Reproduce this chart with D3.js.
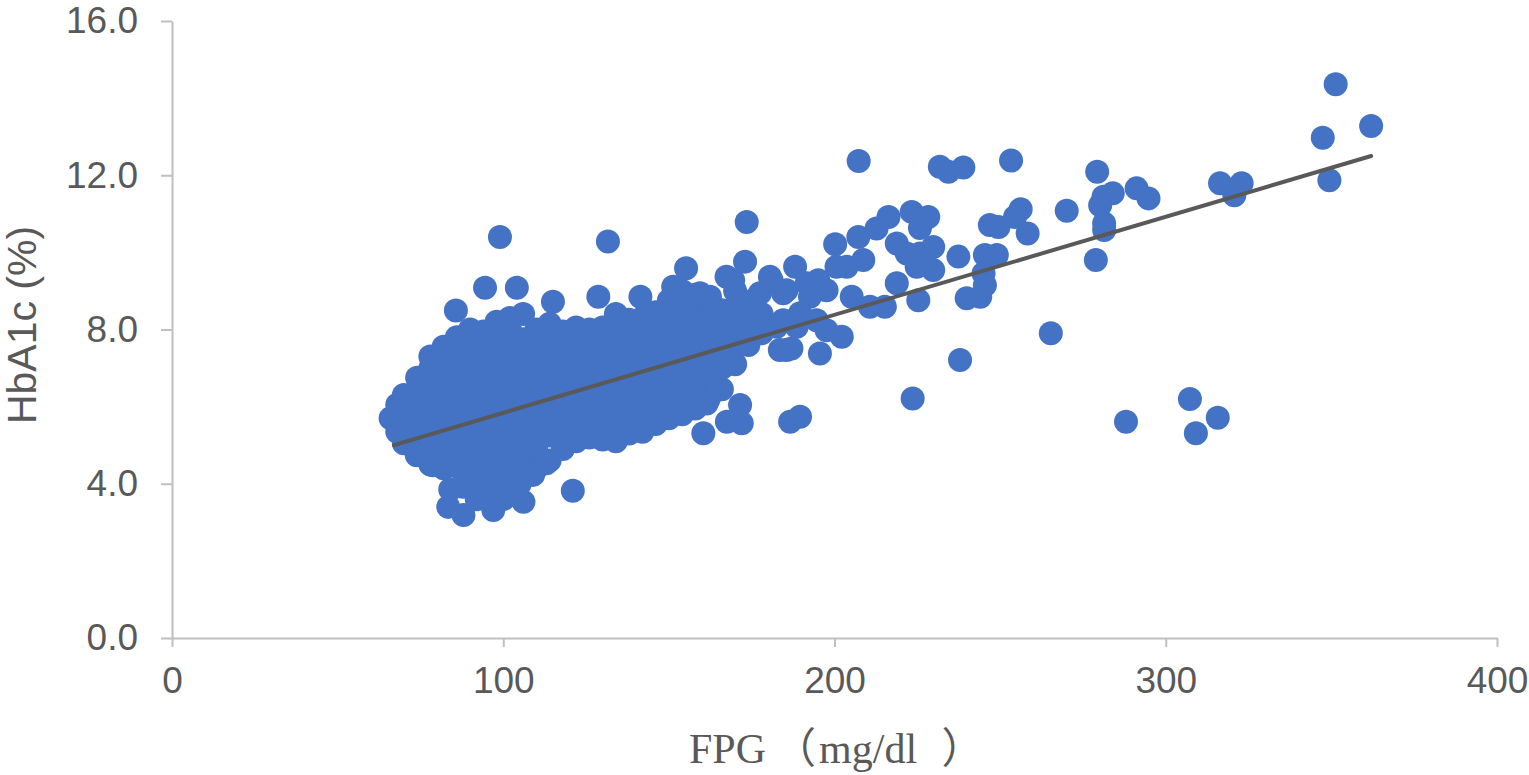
<!DOCTYPE html>
<html>
<head>
<meta charset="utf-8">
<script src="https://cdn.jsdelivr.net/npm/d3@7"></script>
<style>
  body { margin: 0; background: #fff; }
  svg { display: block; }
  .xtitle { white-space: pre; }
</style>
</head>
<body>
<svg width="1529" height="775"></svg>
<script>
// dense cluster
let clusterPoints = [
  [66,5.7],[68,5.35],[68,6.05],
  [70,5.05],[70,5.5],[70,6.0],[70,6.3],
  [74,4.75],[74,5.25],[74,5.75],[74,6.25],[74,6.75],
  [78,4.5],[78,5.0],[78,5.5],[78,6.0],[78,6.5],[78,7.0],[78,7.3],
  [82,4.4],[82,4.75],[82,5.25],[82,5.75],[82,6.25],[82,6.75],[82,7.25],[82,7.55],
  [86,4.45],[86,5.0],[86,5.5],[86,6.0],[86,6.5],[86,7.0],[86,7.5],[86,7.8],
  [90,4.25],[90,4.75],[90,5.25],[90,5.75],[90,6.25],[90,6.75],[90,7.25],[90,7.75],[90,8.0],
  [94,4.4],[94,5.0],[94,5.5],[94,6.0],[94,6.5],[94,7.0],[94,7.5],[94,7.95],
  [98,4.3],[98,4.75],[98,5.25],[98,5.75],[98,6.25],[98,6.75],[98,7.25],[98,7.75],[98,8.2],
  [102,4.4],[102,5.0],[102,5.5],[102,6.0],[102,6.5],[102,7.0],[102,7.5],[102,8.0],[102,8.3],
  [106,4.35],[106,4.75],[106,5.25],[106,5.75],[106,6.25],[106,6.75],[106,7.25],[106,7.75],[106,8.4],
  [110,4.4],[110,5.0],[110,5.5],[110,6.0],[110,6.5],[110,7.0],[110,7.5],[110,8.0],
  [114,4.6],[114,5.25],[114,5.75],[114,6.25],[114,6.75],[114,7.25],[114,7.75],[114,8.15],
  [118,4.9],[118,5.5],[118,6.0],[118,6.5],[118,7.0],[118,7.5],[118,7.95],
  [122,5.1],[122,5.6],[122,6.1],[122,6.6],[122,7.1],[122,7.6],[122,8.05],
  [126,5.2],[126,5.75],[126,6.25],[126,6.75],[126,7.25],[126,7.75],[126,8.0],
  [130,5.15],[130,5.6],[130,6.1],[130,6.6],[130,7.1],[130,7.6],[130,8.05],
  [134,5.1],[134,5.5],[134,6.0],[134,6.5],[134,7.0],[134,7.5],[134,8.0],[134,8.4],
  [138,5.3],[138,5.8],[138,6.3],[138,6.8],[138,7.3],[138,7.8],[138,8.25],
  [142,5.35],[142,5.75],[142,6.25],[142,6.75],[142,7.25],[142,7.75],[142,8.3],
  [146,5.55],[146,6.0],[146,6.5],[146,7.0],[146,7.5],[146,8.0],[146,8.45],
  [150,5.7],[150,6.25],[150,6.75],[150,7.25],[150,7.75],[150,8.25],[150,8.75],
  [154,5.8],[154,6.2],[154,6.7],[154,7.2],[154,7.7],[154,8.2],[154,8.6],[154,9.0],
  [158,5.95],[158,6.5],[158,7.0],[158,7.5],[158,8.0],[158,8.5],[158,8.9],
  [162,6.2],[162,6.75],[162,7.25],[162,7.75],[162,8.25],[162,8.7],
  [166,6.45],[166,7.0],[166,7.5],[166,8.0],[166,8.5],
  [170,7.1],[170,7.6],[170,8.1],[170,8.6],[170,9.0],
  [174,7.6],[174,8.1],[174,8.55],
  [178,7.9],[178,8.4]
]

// low lobe under the cluster
let lowPoints = [
  [83.4,3.4],[88,3.19],[97,3.32],[106.1,3.53],[105,4.0],[87.9,3.92],
  [92,3.6],[96,3.9],[100,3.6],[92,4.1],[100,4.1],[84,3.85],
  [113,4.53],[109,4.23],[78.8,4.48],[73.9,4.74],[121,3.82]
]

// points around the cluster edge and the middle range
let spreadPoints = [
  [99,10.4],[131.6,10.28],[94.5,9.08],[104.1,9.08],[85.7,8.49],[115,8.72],
  [128.7,8.85],[141.4,8.85],[155.2,9.59],[151.3,9.11],[159.4,8.94],[167.4,9.37],
  [173.5,10.79],[173,9.76],[180.5,9.37],[177.5,8.94],[185.5,9.02],[182.5,8.07],
  [185.5,7.47],[183.5,7.47],[187,7.51],[178,7.98],[175.5,8.76],[184.5,8.94],
  [181,9.28],[169.4,9.28],[162.4,8.85],[165.4,8.42],[170.5,8.07],[173.5,7.64],
  [165.4,7.21],[162.4,6.86],[164.4,6.43],[161.4,6.08],
  [189.6,5.74],[186.6,5.61],[171.5,6.04],[172,5.57],[167.5,5.61],[160.4,5.31],
  [188.1,9.63],[195.1,9.28],[191.6,9.2],[197.6,9.02],[192.6,8.85],[189.6,8.42],
  [194.6,8.24],[197.6,7.98],[188.6,8.07],[184.5,8.24],[195.6,7.38],[202.2,7.81],
  [200.2,10.21],[207.2,10.4],[212.7,10.62],[216.3,10.92],[223.3,11.05],[228.3,10.92],
  [225.8,10.63],[218.8,10.23],[229.8,10.14],[221.8,9.97],[225.8,9.97],
  [208.7,9.8],[203.7,9.63],[200.6,9.63],[205.2,8.85],[210.7,8.59],[215.2,8.59],
  [218.8,9.2],[224.8,9.63],[229.8,9.54],[225.3,8.76],
  [237.4,9.89],[245.4,9.93],[249,9.93],[245,9.45],[245.4,9.15],[239.9,8.81],[244,8.85],
  [246.9,10.71],[249.5,10.66],[237.9,7.21],[223.6,6.21]
]

// far points on the right
let farPoints = [
  [207.3,12.37],[231.8,12.22],[234.4,12.09],[238.9,12.2],[253.3,12.38],
  [279.3,12.09],[270.1,11.08],[256.2,11.12],[254.5,10.92],[258.3,10.49],
  [281.2,11.44],[284,11.53],[280.2,11.22],[281.4,10.75],[281.4,10.58],
  [291.2,11.66],[294.8,11.4],[278.9,9.8],[265.3,7.9],
  [288,5.61],[307.3,6.2],[315.7,5.71],[309.1,5.31],
  [316.4,11.79],[322.9,11.79],[320.7,11.48],
  [347.4,12.97],[349.4,11.87],[351.3,14.36],[362,13.28]
]

// linear trend line end points
let trendFpg = [67, 362]
let trendHba1c = [5.0, 12.5]

let xTicks = [0, 100, 200, 300, 400]
let yTicks = [0, 4, 8, 12, 16]

let allPoints = clusterPoints.concat(lowPoints, spreadPoints, farPoints)

let svg = d3.select('svg')
let x = d3.scaleLinear().domain([0, 400]).range([172, 1497])
let y = d3.scaleLinear().domain([0, 16]).range([638, 21])

let axisColor = '#bfbfbf'
let textColor = '#595959'

let xAxis = svg.append('g')
    .attr('transform', 'translate(0,638)')
    .call(d3.axisBottom(x).tickValues(xTicks).tickSize(9).tickSizeOuter(0).tickPadding(20))
let yAxis = svg.append('g')
    .attr('transform', 'translate(172,0)')
    .call(d3.axisLeft(y).tickValues(yTicks).tickFormat(d3.format('.1f')).tickSize(11).tickSizeOuter(0).tickPadding(23))

;[xAxis, yAxis].forEach(a => {
    a.selectAll('path, line').attr('stroke', axisColor).attr('stroke-width', 2)
    a.selectAll('text')
        .attr('fill', textColor)
        .style('font-family', '"Liberation Sans", Arial, sans-serif')
        .style('font-size', '37px')
})

svg.append('g')
    .selectAll('circle')
    .data(allPoints)
    .enter()
    .append('circle')
    .attr('cx', d => x(d[0]))
    .attr('cy', d => y(d[1]))
    .attr('r', 12)
    .attr('fill', '#4472c4')

svg.append('line')
    .attr('x1', x(trendFpg[0]))
    .attr('y1', y(trendHba1c[0]))
    .attr('x2', x(trendFpg[1]))
    .attr('y2', y(trendHba1c[1]))
    .attr('stroke', '#595959')
    .attr('stroke-width', 4)
    .attr('stroke-linecap', 'round')

svg.append('text')
    .attr('transform', 'translate(36,325) rotate(-90)')
    .attr('text-anchor', 'middle')
    .attr('fill', textColor)
    .style('font-family', '"Liberation Sans", Arial, sans-serif')
    .style('font-size', '41px')
    .text('HbA1c (%)')

// x title: serif text with full-width brackets, gaps widened like the original
let serif = '"Liberation Serif", "Times New Roman", serif'
let cjk = '"Noto Sans CJK SC", sans-serif'
let xTitle = svg.append('text')
    .attr('class', 'xtitle')
    .attr('x', 689)
    .attr('y', 763)
    .attr('fill', textColor)
    .style('font-size', '42px')
xTitle.append('tspan').style('font-family', serif).text('FPG')
xTitle.append('tspan').attr('dx', 8).style('font-family', cjk).text('（')
xTitle.append('tspan').attr('dx', 3).style('font-family', serif).text('mg/dl ')
xTitle.append('tspan').attr('dx', 14).style('font-family', cjk).text('）')
</script>
</body>
</html>
